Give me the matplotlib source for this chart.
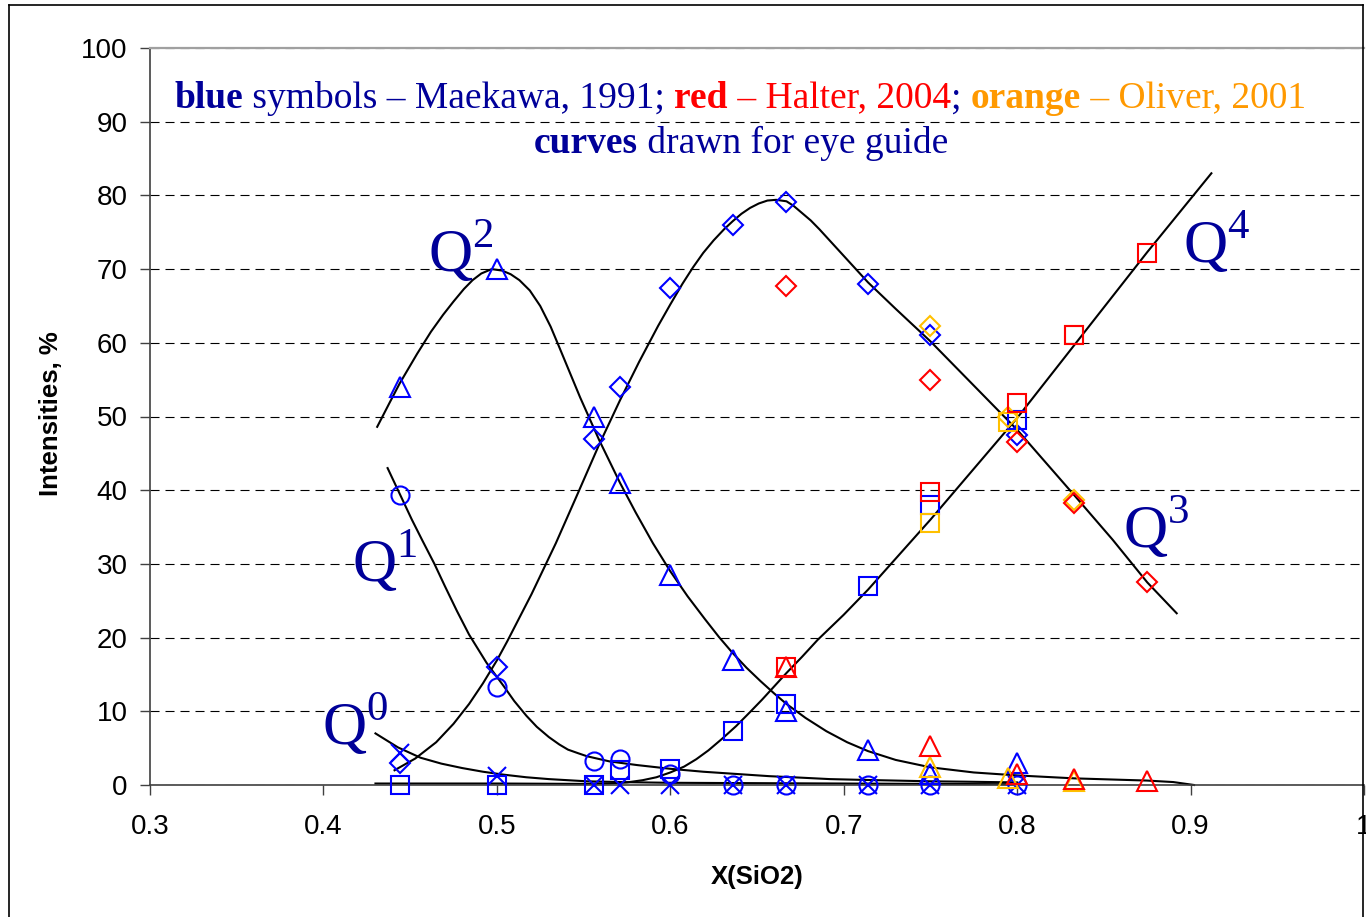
import matplotlib
matplotlib.use('Agg')
import matplotlib.pyplot as plt
from matplotlib.lines import Line2D
from matplotlib.ticker import MultipleLocator, FuncFormatter

plt.rcParams['font.family'] = ['Liberation Sans', 'DejaVu Sans']
plt.rcParams['mathtext.fontset'] = 'custom'
plt.rcParams['mathtext.rm'] = 'Liberation Serif'
plt.rcParams['lines.scale_dashes'] = False

# Maekawa, 1991 (blue)
x_mae = [0.444, 0.5, 0.556, 0.571, 0.6, 0.636, 0.667, 0.714, 0.75, 0.8]
q0_mae = [4.3, 1.2, 0, 0, 0, 0, 0, 0, 0, 0]
q1_mae = [39.3, 13.3, 3.2, 3.5, 1.5, 0, 0, 0, 0, 0]
q2_mae = [54.0, 70.0, 50.0, 41.0, 28.5, 17.0, 10.0, 4.8, 1.5, 3.0]
q3_mae = [3.0, 16.0, 47.0, 54.0, 67.4, 76.0, 79.1, 68.0, 61.0, 47.5]
q4_mae = [0, 0, 0, 2.0, 2.2, 7.3, 11.0, 27.0, 38.0, 49.5]

# Halter, 2004 (red)
x_hal = [0.667, 0.75, 0.8, 0.833, 0.875]
q2_hal = [16.0, 5.3, 1.5, 0.8, 0.5]
q3_hal = [67.7, 55.0, 46.5, 38.3, 27.5]
q4_hal = [16.0, 39.7, 51.8, 61.0, 72.2]

# Oliver, 2001 (orange)
x_oli = [0.75, 0.795, 0.833]
q2_oli = [2.5, 1.0, 0.6]
q3_oli = [62.3, 50.0, 38.7]
q4_oli = [35.5, 49.2, 61.0]

# eye-guide curves
cq0_x = [0.43, 0.443, 0.456, 0.468, 0.48, 0.492, 0.504, 0.517, 0.53, 0.552,
         0.575, 0.6, 0.65, 0.7, 0.75, 0.8]
cq0_y = [7.0, 5.1, 3.7, 2.9, 2.3, 1.8, 1.4, 1.05, 0.8, 0.5,
         0.38, 0.3, 0.25, 0.2, 0.15, 0.1]

cq1_x = [0.437, 0.444, 0.451, 0.457, 0.464, 0.47, 0.477, 0.484, 0.494, 0.504,
         0.51, 0.517, 0.523, 0.53, 0.536, 0.541, 0.547, 0.552, 0.565, 0.581,
         0.6, 0.619, 0.638, 0.657, 0.675, 0.692, 0.71, 0.73, 0.75, 0.77, 0.8]
cq1_y = [43.0, 39.5, 36.0, 33.2, 30.0, 27.0, 23.6, 20.4, 16.6, 13.4,
         11.4, 9.4, 7.9, 6.5, 5.5, 4.8, 4.3, 3.9, 3.2, 2.7,
         2.2, 1.8, 1.5, 1.2, 1.0, 0.8, 0.7, 0.6, 0.5, 0.45, 0.35]

cq2_x = [0.431, 0.438, 0.444, 0.454, 0.462, 0.469, 0.475, 0.481, 0.486, 0.491,
         0.497, 0.503, 0.508, 0.513, 0.519, 0.525, 0.531, 0.536, 0.542, 0.548,
         0.559, 0.571, 0.58, 0.59, 0.6, 0.61, 0.62, 0.628, 0.636, 0.644,
         0.652, 0.66, 0.667, 0.678, 0.69, 0.702, 0.714, 0.73, 0.75, 0.775,
         0.8, 0.833, 0.875, 0.89, 0.902]
cq2_y = [48.6, 51.8, 54.5, 58.5, 61.5, 63.8, 65.6, 67.3, 68.5, 69.4,
         70.0, 69.8, 69.3, 68.5, 67.1, 65.0, 62.2, 59.4, 56.0, 52.6,
         46.8, 41.0, 37.0, 32.8, 29.0, 25.6, 22.5, 20.1, 17.9, 15.9,
         14.1, 12.4, 11.0, 9.1, 7.3, 5.8, 4.6, 3.4, 2.4, 1.7,
         1.3, 0.9, 0.6, 0.4, 0.0]

cq3_x = [0.441, 0.453, 0.465, 0.475, 0.484, 0.492, 0.5, 0.506, 0.52, 0.534,
         0.546, 0.559, 0.571, 0.582, 0.593, 0.6, 0.607, 0.613, 0.619, 0.625,
         0.631, 0.636, 0.641, 0.646, 0.651, 0.656, 0.661, 0.667, 0.671, 0.676,
         0.681, 0.686, 0.693, 0.7, 0.707, 0.714, 0.73, 0.75, 0.775, 0.8,
         0.833, 0.855, 0.875, 0.892]
cq3_y = [2.0, 3.6, 5.8, 8.3, 11.0, 13.8, 16.9, 19.5, 25.9, 32.8,
         39.2, 46.2, 52.2, 57.4, 62.3, 65.2, 68.0, 70.2, 72.2, 73.9,
         75.4, 76.5, 77.5, 78.3, 78.9, 79.3, 79.4, 79.2, 78.6, 77.6,
         76.6, 75.4, 73.6, 71.8, 70.0, 68.2, 64.6, 60.2, 54.2, 48.2,
         39.3, 33.3, 27.5, 23.3]

cq4_x = [0.43, 0.5, 0.55, 0.565, 0.575, 0.584, 0.592, 0.6, 0.608, 0.615,
         0.622, 0.63, 0.638, 0.646, 0.653, 0.66, 0.667, 0.676, 0.685, 0.7,
         0.714, 0.75, 0.8, 0.833, 0.875, 0.912]
cq4_y = [0.2, 0.2, 0.15, 0.2, 0.35, 0.65, 1.05, 1.7, 2.5, 3.5,
         4.7, 6.3, 8.0, 9.9, 11.6, 13.4, 15.2, 17.4, 19.7, 23.1,
         26.5, 36.0, 49.8, 59.7, 72.3, 83.0]

navy = '#000099'
blue = '#0000FF'
red = '#FF0000'
gold = '#FFC000'
orange = '#FF9900'

fig = plt.figure(figsize=(13.66, 9.17), dpi=100)
W, H = 1366, 917
ax = fig.add_axes([150 / W, 1 - 785 / H, (1364 - 150) / W, (785 - 48) / H])
ax.set_xlim(0.3, 1.0)
ax.set_ylim(0, 100)

ax.xaxis.set_major_locator(MultipleLocator(0.1))
ax.yaxis.set_major_locator(MultipleLocator(10))
ax.xaxis.set_major_formatter(FuncFormatter(lambda v, p: f'{v:g}'))
ax.yaxis.grid(True, color='black', lw=0.8, linestyle=(0, (6.5, 4.3)))
ax.set_axisbelow(True)

for side in ['left', 'bottom']:
    ax.spines[side].set_color('#404040')
    ax.spines[side].set_linewidth(1.2)
ax.spines['top'].set_color('#a0a0a0')
ax.spines['top'].set_linewidth(1.6)
ax.spines['right'].set_visible(False)

ax.tick_params(axis='both', direction='out', length=7, width=1, color='#404040',
               labelsize=20)
ax.tick_params(axis='y', pad=9)
ax.tick_params(axis='x', pad=14)

ax.set_xlabel('X(SiO2)', fontsize=18.5, fontweight='bold')
ax.set_ylabel('Intensities, %', fontsize=18.5, fontweight='bold')
ax.xaxis.set_label_coords(0.5, -0.108)
ax.yaxis.set_label_coords(-0.072, 0.504)

# curves
for cx, cy in [(cq0_x, cq0_y), (cq1_x, cq1_y), (cq2_x, cq2_y),
               (cq3_x, cq3_y), (cq4_x, cq4_y)]:
    ax.plot(cx, cy, color='black', lw=1.5, zorder=2, clip_on=False,
            solid_joinstyle='round')


def symbols(x, y, marker, color, size):
    ax.plot(x, y, linestyle='none', marker=marker, ms=size, mfc='none',
            mec=color, mew=1.5, clip_on=False, zorder=3)


symbols(x_mae, q0_mae, 'x', blue, 13)
symbols(x_mae, q1_mae, 'o', blue, 13)
symbols(x_mae, q2_mae, '^', blue, 14)
symbols(x_mae, q3_mae, 'D', blue, 10)
symbols(x_mae, q4_mae, 's', blue, 13)

symbols(x_oli, q2_oli, '^', gold, 14)
symbols(x_oli, q3_oli, 'D', gold, 10)
symbols(x_oli, q4_oli, 's', gold, 13)

symbols(x_hal, q2_hal, '^', red, 14)
symbols(x_hal, q3_hal, 'D', red, 10)
symbols(x_hal, q4_hal, 's', red, 13)

# Q-species labels
q_labels = ['0', '1', '2', '3', '4']
q_pos = [(0.399, 5.4), (0.4164, 27.5), (0.4602, 69.6), (0.8608, 32.2), (0.8954, 70.8)]
for lab, (qx, qy) in zip(q_labels, q_pos):
    ax.text(qx, qy, r'$\mathrm{Q}^{' + lab + '}$', fontsize=44, color=navy,
            ha='left', va='baseline', zorder=4)

# mixed-style caption lines
renderer = fig.canvas.get_renderer()


def text_width(s, size, weight):
    t = fig.text(0, 0, s, fontsize=size, fontweight=weight, family='Liberation Serif')
    w = t.get_window_extent(renderer).width
    t.remove()
    return w


def caption(pieces, cx_px, base_px, size):
    texts, widths = [], []
    for s, weight, color in pieces:
        w = text_width('a' + s + 'a', size, weight) - text_width('aa', size, weight)
        t = fig.text(0, 0, s, fontsize=size, fontweight=weight, color=color,
                     family='Liberation Serif', ha='left', va='baseline')
        texts.append(t)
        widths.append(w)
    x = cx_px - sum(widths) / 2
    for t, w in zip(texts, widths):
        t.set_position((x / W, 1 - base_px / H))
        x += w


line1 = [('blue', 'bold', navy), (' symbols \u2013 Maekawa, 1991; ', 'normal', navy),
         ('red', 'bold', red), (' \u2013 Halter, 2004', 'normal', red),
         ('; ', 'normal', navy), ('orange', 'bold', orange),
         (' \u2013 Oliver, 2001', 'normal', orange)]
line2 = [('curves', 'bold', navy), (' drawn for eye guide', 'normal', navy)]
caption(line1, 740, 108, 27)
caption(line2, 741, 153, 27)

# outer chart frame
frame = dict(color='black', lw=1.2, transform=None)
fig.add_artist(Line2D([8.5, 8.5], [0, H - 5], **frame))
fig.add_artist(Line2D([8.5, 1363], [H - 5, H - 5], **frame))
fig.add_artist(Line2D([1363, 1363], [0, H - 5], **frame))

fig.savefig('out.png', dpi=100)
